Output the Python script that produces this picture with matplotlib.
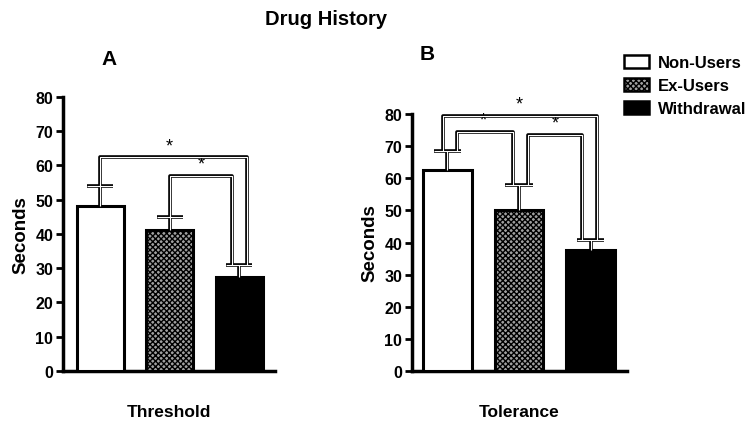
import matplotlib
matplotlib.use("Agg")
import matplotlib.pyplot as plt
from matplotlib.patches import Patch

plt.rcParams["font.family"] = ["Liberation Sans", "DejaVu Sans"]
plt.rcParams["font.weight"] = "bold"
plt.rcParams["hatch.linewidth"] = 1.0

groups = ["Non-Users", "Ex-Users", "Withdrawal"]
threshold_mean = [48, 41, 27.5]
threshold_err = [6, 4, 3.5]
tolerance_mean = [62.7, 50.2, 37.7]
tolerance_err = [5.8, 7.8, 3.1]
yticks = [0, 10, 20, 30, 40, 50, 60, 70, 80]

faces = ["white", "#a0a0a0", "black"]
hatches = [None, "xxxxxx", None]


def hollow(ax, xs, ys):
    # the source renders thin strokes as outlined lines
    ax.plot(xs, ys, color="black", lw=2.6, clip_on=False, solid_capstyle="butt", zorder=4)
    ax.plot(xs, ys, color="white", lw=0.8, clip_on=False, solid_capstyle="butt", zorder=5)


def draw_panel(ax, means, errs, xlim, brackets, xlabel):
    x = range(len(means))
    for i in x:
        ax.bar(i, means[i], width=0.68, color=faces[i], edgecolor="black",
               linewidth=2.2, hatch=hatches[i], zorder=3)
        top = means[i] + errs[i]
        hollow(ax, [i, i], [means[i], top])
        hollow(ax, [i - 0.19, i + 0.19], [top, top])
    for x0, y0, x1, y1, h, sx in brackets:
        hollow(ax, [x0, x0, x1, x1], [y0, h, h, y1])
        ax.text(sx, h + 1.0, "*", ha="center", va="bottom", fontsize=13, fontweight="normal")
    ax.set_xlim(*xlim)
    ax.set_ylim(0, 80)
    ax.set_yticks(yticks)
    ax.set_xticks([])
    ax.tick_params(axis="y", labelsize=11.5, width=2, length=5, pad=2)
    for s in ["top", "right"]:
        ax.spines[s].set_visible(False)
    for s in ["left", "bottom"]:
        ax.spines[s].set_linewidth(2.5)
    ax.set_ylabel("Seconds", fontsize=13.5, fontweight="bold", labelpad=4)
    ax.set_xlabel(xlabel, fontsize=12.5, fontweight="bold", labelpad=24)


fig = plt.figure(figsize=(7.56, 4.31), dpi=100)
axA = fig.add_axes([0.0833, 0.137, 0.281, 0.636])
axB = fig.add_axes([0.545, 0.137, 0.284, 0.596])

tA = [m + e for m, e in zip(threshold_mean, threshold_err)]
draw_panel(axA, threshold_mean, threshold_err, (-0.536, 2.52),
           [(0, tA[0], 2.11, tA[2], 62.3, 1.0),
            (1, tA[1], 1.9, tA[2], 57, 1.45)],
           "Threshold")

tB = [m + e for m, e in zip(tolerance_mean, tolerance_err)]
draw_panel(axB, tolerance_mean, tolerance_err, (-0.49, 2.5),
           [(-0.06, tB[0], 2.08, tB[2], 79.4, 1.0),
            (0.13, tB[0], 0.92, tB[1], 74.5, 0.5),
            (1.12, tB[1], 1.88, tB[2], 73.5, 1.5)],
           "Tolerance")

fig.text(0.144, 0.861, "A", ha="center", va="center", fontsize=15, fontweight="bold")
fig.text(0.565, 0.874, "B", ha="center", va="center", fontsize=15, fontweight="bold")

handles = [Patch(facecolor=faces[i], edgecolor="black", linewidth=1.8, hatch=hatches[i])
           for i in range(3)]
fig.legend(handles, groups, loc="upper left", bbox_to_anchor=(0.826, 0.87),
           frameon=False, fontsize=12, handlelength=1.5, handleheight=0.85,
           labelspacing=0.45, handletextpad=0.5, borderaxespad=0, borderpad=0)

fig.text(0.431, 0.955, "Drug History", ha="center", va="center", fontsize=14.5, fontweight="bold")

fig.savefig("out.png", dpi=100)
